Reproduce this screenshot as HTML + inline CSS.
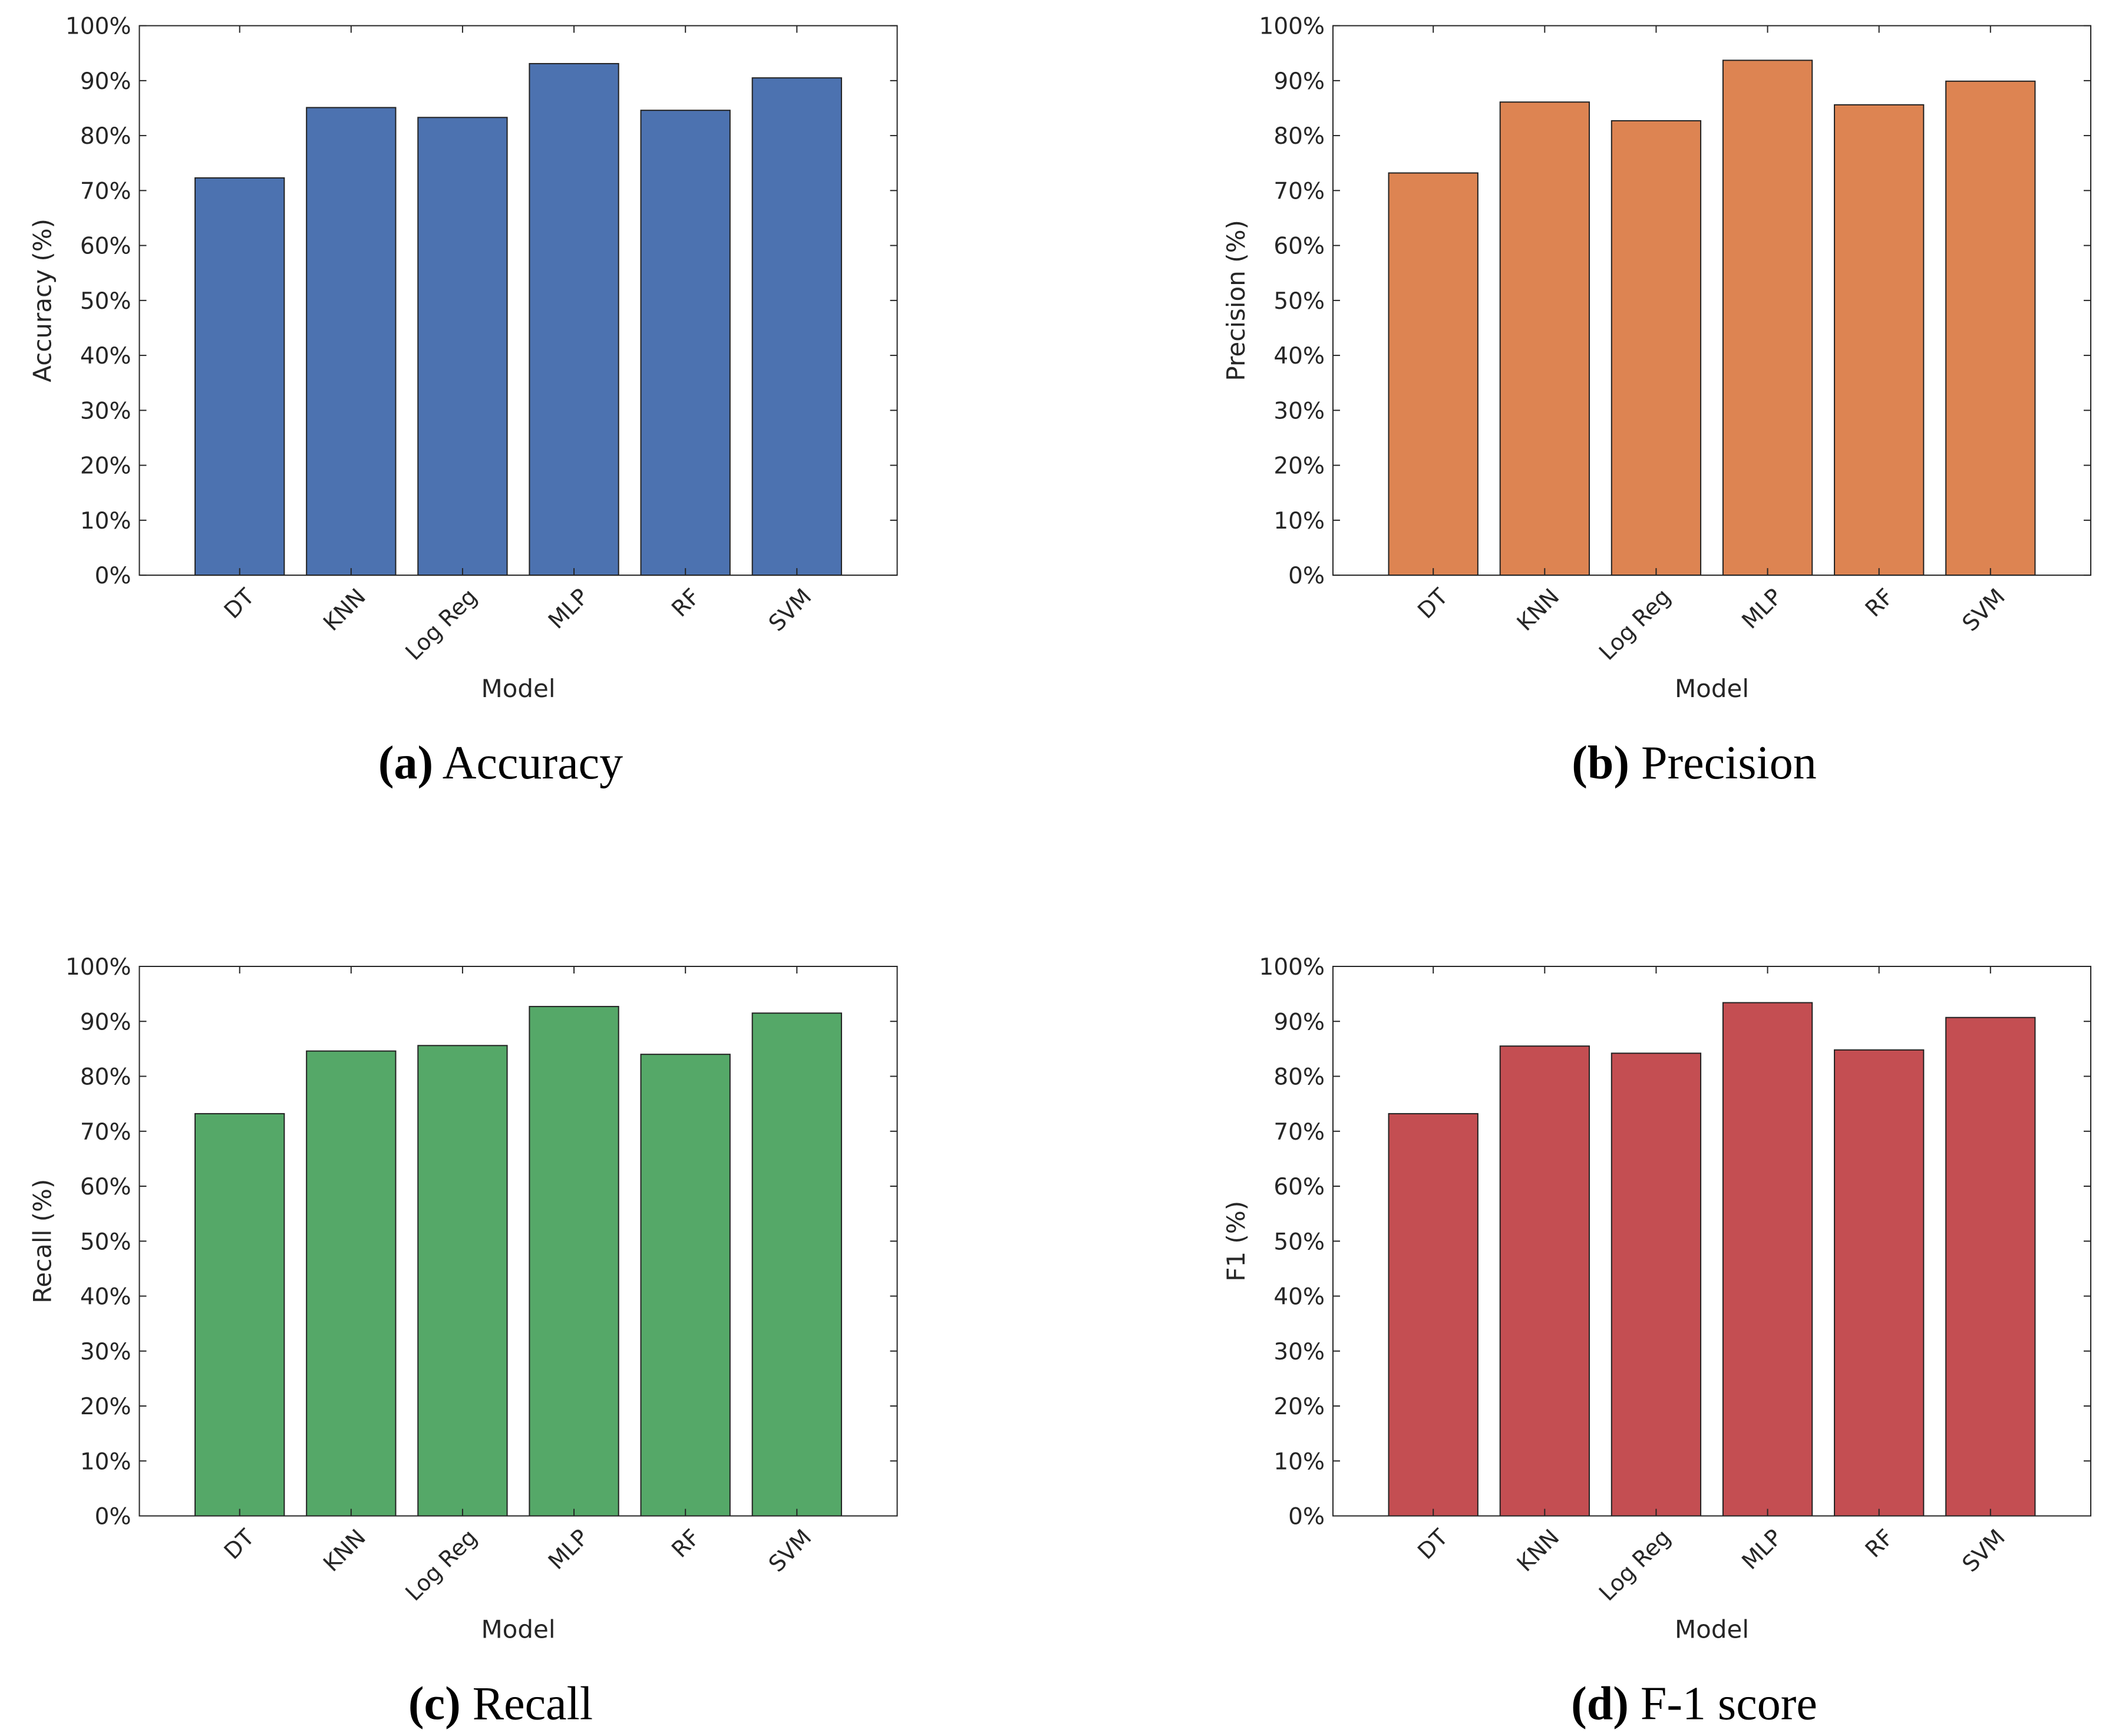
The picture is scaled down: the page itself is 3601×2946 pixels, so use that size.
<!DOCTYPE html>
<html><head><meta charset="utf-8"><style>
html,body{margin:0;padding:0;background:#fff;}
svg{display:block;}
.tick{font-family:"DejaVu Sans","Liberation Sans",sans-serif;font-size:39px;fill:#262626;}
.xtick{font-family:"DejaVu Sans","Liberation Sans",sans-serif;font-size:38px;fill:#262626;}
.lab{font-family:"DejaVu Sans","Liberation Sans",sans-serif;font-size:42px;fill:#262626;}
.cap{font-family:"Liberation Serif",serif;font-size:80px;fill:#000;}
</style></head><body>
<svg id="fig" width="3601" height="2946" viewBox="0 0 3601 2946" xmlns="http://www.w3.org/2000/svg"></svg>
<script>
const categories = ["DT","KNN","Log Reg","MLP","RF","SVM"];
const accuracyValues = [72.3, 85.1, 83.3, 93.1, 84.6, 90.5];
const precisionValues = [73.2, 86.1, 82.7, 93.7, 85.6, 89.9];
const recallValues = [73.2, 84.6, 85.6, 92.7, 84.0, 91.5];
const f1Values = [73.2, 85.5, 84.2, 93.4, 84.8, 90.7];
const yTicks = [0,10,20,30,40,50,60,70,80,90,100];
const yTickLabels = ["0%","10%","20%","30%","40%","50%","60%","70%","80%","90%","100%"];

const NS = "http://www.w3.org/2000/svg";
const svg = document.getElementById("fig");
function mk(tag, attrs, parent){
  const e = document.createElementNS(NS, tag);
  for (const k in attrs) e.setAttribute(k, attrs[k]);
  (parent||svg).appendChild(e);
  return e;
}
const panels = [
  {key:"accuracy", vals:accuracyValues, color:"#4c72b0", ylab:"Accuracy (%)", capB:"(a)", capT:" Accuracy", x0:236.5, y0:43.6},
  {key:"precision", vals:precisionValues, color:"#dd8452", ylab:"Precision (%)", capB:"(b)", capT:" Precision", x0:2262, y0:43.6},
  {key:"recall", vals:recallValues, color:"#55a868", ylab:"Recall (%)", capB:"(c)", capT:" Recall", x0:236.5, y0:1640},
  {key:"f1", vals:f1Values, color:"#c44e52", ylab:"F1 (%)", capB:"(d)", capT:" F-1 score", x0:2262, y0:1640}
];
const W = 1286, H = 932.5;
panels.forEach(p => {
  const g = mk("g", {});
  
  
  const xs = i => p.x0 + (i + 1 - 0.1) / 6.8 * W;
  const ys = v => p.y0 + H - v / 100 * H;
  const bw = 0.8 / 6.8 * W;
  p.vals.forEach((v, i) => {
    const r = mk("rect", {x:xs(i)-bw/2, y:ys(v), width:bw, height:ys(0)-ys(v), fill:p.color, stroke:"#222", "stroke-width":2}, g);
    
    
  });
  const frame = mk("rect", {x:p.x0, y:p.y0, width:W, height:H, fill:"none", stroke:"#262626", "stroke-width":2}, g);
  
  
  yTicks.forEach((t, i) => {
    const y = ys(t);
    mk("line", {x1:p.x0, x2:p.x0+12, y1:y, y2:y, stroke:"#262626", "stroke-width":2}, g);
    mk("line", {x1:p.x0+W, x2:p.x0+W-12, y1:y, y2:y, stroke:"#262626", "stroke-width":2}, g);
    const tl = mk("text", {x:p.x0-14, y:y+14, "text-anchor":"end", class:"tick"}, g);
    tl.textContent = yTickLabels[i];
    
    
  });
  categories.forEach((c, i) => {
    const x = xs(i);
    mk("line", {x1:x, x2:x, y1:p.y0+H, y2:p.y0+H-12, stroke:"#262626", "stroke-width":2}, g);
    mk("line", {x1:x, x2:x, y1:p.y0, y2:p.y0+12, stroke:"#262626", "stroke-width":2}, g);
    const tx = x + 8, ty = p.y0 + H + 20;
    const tl = mk("text", {x:tx, y:ty, "text-anchor":"end", class:"xtick", transform:`rotate(-45 ${tx} ${ty})`, dy:"0.7em"}, g);
    tl.textContent = c;
    
    
  });
  const yl = mk("text", {x:0, y:0, "text-anchor":"middle", class:"lab", transform:`translate(${p.x0-150},${p.y0+H/2}) rotate(-90)`}, g);
  yl.textContent = p.ylab;
  
  
  const xl = mk("text", {x:p.x0+W/2, y:p.y0+H+207, "text-anchor":"middle", class:"lab"}, g);
  xl.textContent = "Model";
  
  
  const cap = mk("text", {x:p.x0+W/2-30, y:p.y0+H+345, "text-anchor":"middle", class:"cap"}, g);
  
  
  const b = mk("tspan", {"font-weight":"bold"}, cap); b.textContent = p.capB;
  const t = mk("tspan", {}, cap); t.textContent = p.capT;
});
</script>
</body></html>
